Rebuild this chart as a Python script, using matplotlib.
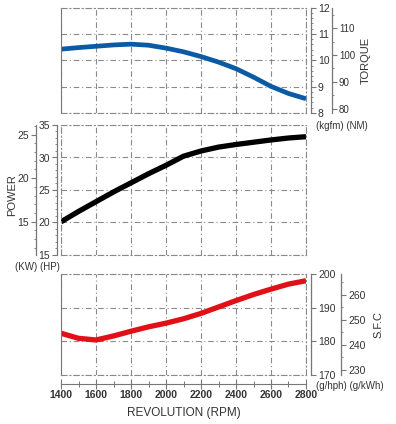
import numpy as np
import matplotlib
matplotlib.use("Agg")
import matplotlib.pyplot as plt
from matplotlib.ticker import MultipleLocator

plt.rcParams['font.family'] = ['Liberation Sans', 'DejaVu Sans']

rpm = [1400, 1500, 1600, 1700, 1800, 1900, 2000, 2100, 2200, 2300, 2400, 2500, 2600, 2700, 2800]
torque_kgfm = [10.42, 10.48, 10.53, 10.58, 10.61, 10.57, 10.46, 10.32, 10.14, 9.93, 9.68, 9.36, 9.01, 8.74, 8.54]
power_hp = [20.1, 21.7, 23.2, 24.7, 26.1, 27.5, 28.8, 30.2, 31.0, 31.6, 32.0, 32.35, 32.7, 33.0, 33.2]
sfc_ghph = [182.4, 180.9, 180.4, 181.6, 183.0, 184.3, 185.4, 186.7, 188.3, 190.2, 192.1, 193.9, 195.5, 197.0, 198.0]

W, H = 396, 424
DPI = 100
GRID = '#8a8a8a'
SPINE = '#777777'
TXT = '#333333'
DASH = (0, (5, 2.5, 1, 2.5))
HP2KW = 0.7457
KGF2NM = 9.80665

fig = plt.figure(figsize=(W / DPI, H / DPI), dpi=DPI)


def rect(x0, y0, x1, y1):
    return [x0 / W, 1 - y1 / H, (x1 - x0) / W, (y1 - y0) / H]


def pts(p):
    return p * 72 / DPI


def panel(y0, y1, solid_left=True):
    ax = fig.add_axes(rect(61, y0, 306, y1))
    ax.set_xlim(1400, 2800)
    ax.set_xticks(range(1400, 2801, 200))
    ax.grid(True, color=GRID, linestyle=DASH, lw=0.8)
    for s in ax.spines.values():
        s.set_color(GRID)
        s.set_linestyle(DASH)
        s.set_linewidth(0.8)
    if solid_left:
        ax.spines['left'].set_linestyle('-')
        ax.spines['left'].set_color(SPINE)
    ax.tick_params(left=False, bottom=False, labelleft=False, labelbottom=False)
    return ax


def side_axis(y0, y1, lim, side, offset, minor, ticks, size=7.5):
    a = fig.add_axes(rect(61, y0, 306, y1), frameon=True)
    a.patch.set_visible(False)
    for k, s in a.spines.items():
        s.set_visible(k == side)
    a.spines[side].set_position(('outward', pts(offset)))
    a.spines[side].set_color(SPINE)
    a.spines[side].set_linewidth(0.9)
    a.set_xticks([])
    a.set_ylim(*lim)
    a.set_yticks(ticks)
    a.yaxis.set_minor_locator(MultipleLocator(minor))
    if side == 'right':
        a.yaxis.tick_right()
    else:
        a.yaxis.tick_left()
    a.tick_params(axis='y', which='major', length=3.5, width=0.8, color=SPINE,
                  labelsize=size, labelcolor=TXT, pad=1.5)
    a.tick_params(axis='y', which='minor', length=1.5, width=0.6, color=SPINE)
    return a


# torque
ax1 = panel(7.5, 113)
ax1.set_ylim(8, 12)
ax1.set_yticks([8, 9, 10, 11, 12])
ax1.plot(rpm, torque_kgfm, color='#0a5aa6', lw=3.4, solid_capstyle='butt')
side_axis(7.5, 113, (8, 12), 'right', 5, 0.2, [8, 9, 10, 11, 12])
side_axis(7.5, 113, (8 * KGF2NM, 12 * KGF2NM), 'right', 26, 5, [80, 90, 100, 110], size=7)
fig.text(366 / W, 1 - 60 / H, 'TORQUE', rotation=90, ha='center', va='center',
         fontsize=8, color=TXT)
fig.text(316 / W, 1 - 126 / H, '(kgfm) (NM)', ha='left', va='center', fontsize=7, color=TXT)

# power
ax2 = panel(125, 255, solid_left=False)
ax2.set_ylim(15, 35)
ax2.set_yticks([15, 20, 25, 30, 35])
ax2.plot(rpm, power_hp, color='black', lw=3.8, solid_capstyle='butt')
side_axis(125, 255, (15, 35), 'left', 4, 1, [15, 20, 25, 30, 35])
side_axis(125, 255, (15 * HP2KW, 35 * HP2KW), 'left', 25, 1, [15, 20, 25])
fig.text(12 / W, 1 - 195 / H, 'POWER', rotation=90, ha='center', va='center',
         fontsize=8, color=TXT)
fig.text(15 / W, 1 - 267 / H, '(KW) (HP)', ha='left', va='center', fontsize=7, color=TXT)

# s.f.c
ax3 = panel(274, 375)
ax3.set_ylim(170, 200)
ax3.set_yticks([170, 180, 190, 200])
ax3.plot(rpm, sfc_ghph, color='#e01016', lw=3.8, solid_capstyle='butt')
side_axis(274, 375, (170, 200), 'right', 5, 10, [170, 180, 190, 200])
side_axis(274, 375, (170 / HP2KW, 200 / HP2KW), 'right', 35, 5, [230, 240, 250, 260])
fig.text(378 / W, 1 - 325 / H, 'S.F.C', rotation=90, ha='center', va='center',
         fontsize=8, color=TXT)
fig.text(316 / W, 1 - 386 / H, '(g/hph) (g/kWh)', ha='left', va='center', fontsize=7, color=TXT)

# revolution axis
axx = fig.add_axes(rect(61, 383, 306, 384))
axx.patch.set_visible(False)
for k, s in axx.spines.items():
    s.set_visible(k == 'bottom')
axx.spines['bottom'].set_color(SPINE)
axx.set_yticks([])
axx.set_xlim(1400, 2800)
axx.set_xticks(range(1400, 2801, 200))
axx.xaxis.set_minor_locator(MultipleLocator(100))
axx.tick_params(axis='x', which='major', direction='inout', length=7, width=0.8, color=SPINE,
                labelsize=7.5, labelcolor=TXT, pad=1)
axx.tick_params(axis='x', which='minor', direction='inout', length=4, width=0.7, color=SPINE)
for t in axx.get_xticklabels():
    t.set_fontweight('bold')
fig.text(183.5 / W, 1 - 413 / H, 'REVOLUTION (RPM)', ha='center', va='center',
         fontsize=8.5, color=TXT)

fig.savefig('out.png', dpi=DPI)
